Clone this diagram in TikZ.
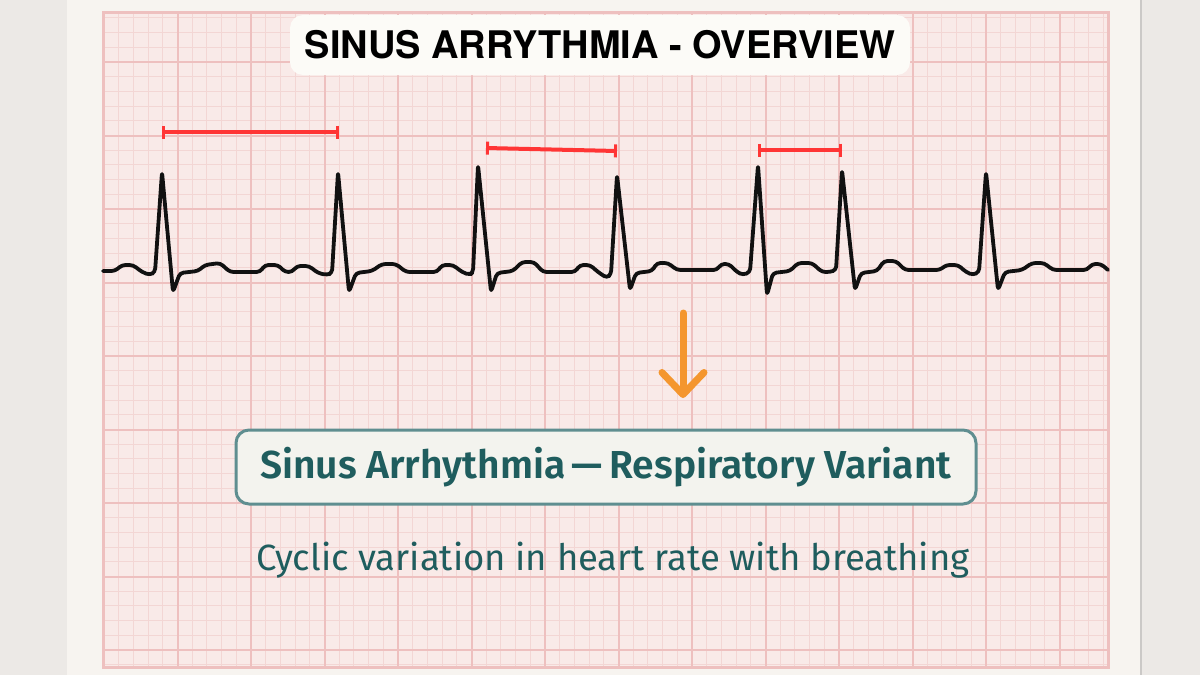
\documentclass[tikz,border=0pt]{standalone}
\usepackage{fontspec}
\setmainfont{Fira Sans}
\newfontfamily\titlefont{TeX Gyre Heros}
\newfontfamily\boxfont{Fira Sans}[BoldFont={Fira Sans SemiBold}]
\usepackage{xcolor}
\definecolor{cBg}{HTML}{ECE9E6}
\definecolor{cPaper}{HTML}{F7F4F0}
\definecolor{cGridFill}{HTML}{F9EAE8}
\definecolor{cGridMinor}{HTML}{F3D6D4}
\definecolor{cGridMajor}{HTML}{EEC0BF}
\definecolor{cTrace}{HTML}{111111}
\definecolor{cMark}{HTML}{FF3535}
\definecolor{cArrow}{HTML}{F4962E}
\definecolor{cTeal}{HTML}{1F5D5E}
\definecolor{cTealLine}{HTML}{5F8E90}
\definecolor{cBoxFill}{HTML}{F3F3EE}
\definecolor{cTitleFill}{HTML}{FCFBF7}
\usetikzlibrary{positioning,arrows.meta}
\tikzset{
  grid-minor/.style={draw=cGridMinor,line width=0.9pt},
  grid-major/.style={draw=cGridMajor,line width=2pt},
  grid-border/.style={draw=cGridMajor,line width=3pt},
  ecg-trace/.style={draw=cTrace,line width=3.8pt,line join=round,line cap=round,rounded corners=3.5pt},
  rr-mark/.style={{Bar[width=13pt,line width=3pt]}-{Bar[width=13pt,line width=3pt]},draw=cMark,line width=4pt},
  arrow-down/.style={-{Straight Barb[length=22pt,width=42pt,round]},draw=cArrow,line width=7pt,line cap=round},
  title-box/.style={fill=cTitleFill,rounded corners=13pt,minimum width=620pt,minimum height=60pt,
    inner sep=0pt,font=\titlefont\bfseries\fontsize{38}{40}\selectfont},
  variant-box/.style={draw=cTealLine,line width=3pt,fill=cBoxFill,rounded corners=13pt,
    minimum width=740pt,minimum height=74pt,inner sep=0pt,text=cTeal,
    font=\boxfont\bfseries\fontsize{39}{42}\selectfont},
  caption-text/.style={text=cTeal,inner sep=0pt,font=\boxfont\fontsize{36.5}{40}\selectfont},
}

\begin{document}
\begin{tikzpicture}[x=1pt,y=-1pt]
  \useasboundingbox (0,0) rectangle (1200,675);
  \fill[cBg] (0,0) rectangle (1200,675);
  \fill[cPaper] (67,0) rectangle (1141,675);
  \draw[cBg!70!gray,line width=1.5pt] (1141,0) -- (1141,675);
  % ecg paper
  \fill[cGridFill] (103,12) rectangle (1108,667);
  \begin{scope}
    \clip (103,12) rectangle (1108,667);
    \foreach \k in {-10,...,58}
      \draw[grid-minor] ({251+14.7*\k},12) -- ++(0,655);
    \foreach \k in {-43,...,1}
      \draw[grid-minor] (103,{650+14.7*\k}) -- ++(1005,0);
    \foreach \k in {-2,...,11}
      \draw[grid-major] ({251+73.5*\k},12) -- ++(0,655);
    \foreach \k in {-8,...,0}
      \draw[grid-major] (103,{650+73.5*\k}) -- ++(1005,0);
  \end{scope}
  \draw[grid-border] (103,12) rectangle (1108,667);

  \node[title-box] (title) at (600,45) {SINUS ARRYTHMIA - OVERVIEW};

  % R-R intervals
  \coordinate (rr1a) at (162,132); \coordinate (rr1b) at (339,132);
  \coordinate (rr2a) at (486,148); \coordinate (rr2b) at (617,151);
  \coordinate (rr3a) at (758,150); \coordinate (rr3b) at (842,150);
  \draw[rr-mark] (rr1a) -- (rr1b);
  \draw[rr-mark] (rr2a) -- (rr2b);
  \draw[rr-mark] (rr3a) -- (rr3b);

  % trace
  \draw[ecg-trace] (103,271) -- (115,271) -- (122,265) -- (133,265) -- (142,272) -- (150,275) -- (155,272)
    -- (162,172) -- (173,292) -- (180,273) -- (198,271) -- (205,265) -- (220,263) -- (230,272)
    -- (260,272) -- (265,265) -- (278,265) -- (285,272) -- (292,272) -- (297,266) -- (309,266)
    -- (318,273) -- (327,275) -- (332,273) -- (338,172) -- (349,292) -- (356,273) -- (372,271)
    -- (382,264) -- (396,264) -- (406,272) -- (437,272) -- (442,265) -- (453,265) -- (462,272)
    -- (470,275) -- (473,272) -- (478,165) -- (491,292) -- (497,273) -- (513,271) -- (522,262)
    -- (534,262) -- (543,272) -- (575,272) -- (580,265) -- (590,265) -- (598,272) -- (607,278)
    -- (611,274) -- (617,175) -- (630,290) -- (636,273) -- (652,271) -- (657,263) -- (668,263)
    -- (677,270) -- (717,270) -- (721,264) -- (729,264) -- (737,272) -- (743,275) -- (750,272)
    -- (758,165) -- (767,295) -- (773,273) -- (790,271) -- (798,263) -- (812,263) -- (822,272)
    -- (830,272) -- (836,270) -- (842,170) -- (855,290) -- (861,273) -- (877,271) -- (884,261)
    -- (896,261) -- (905,270) -- (940,270) -- (946,265) -- (958,265) -- (966,272) -- (973,275)
    -- (979,272) -- (986,172) -- (998,290) -- (1005,272) -- (1022,270) -- (1032,263) -- (1044,263)
    -- (1053,270) -- (1087,270) -- (1092,264) -- (1101,264) -- (1108,270);

  \coordinate (arr-top) at (683,313);
  \coordinate (arr-tip) at (683,398);
  \draw[arrow-down] (arr-top) -- (arr-tip);

  \node[variant-box] (variant) at (606,467) {Sinus Arrhythmia\,—\,Respiratory Variant};
  \node[caption-text] (caption) at (613,560) {Cyclic variation in heart rate with breathing};
\end{tikzpicture}
\end{document}
